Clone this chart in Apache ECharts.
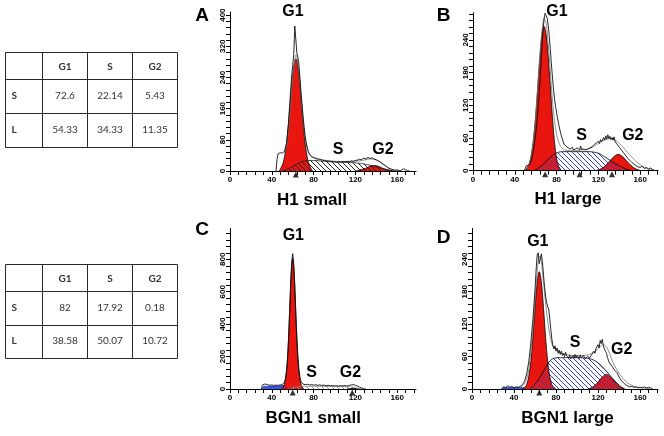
<!DOCTYPE html>
<html><head><meta charset="utf-8">
<script src="https://cdn.jsdelivr.net/npm/echarts@6/dist/echarts.min.js"></script>
<style>html,body{margin:0;padding:0;background:#fff}#c{width:664px;height:436px}</style>
</head><body><div id="c"></div>
<script>
// ---------------- DATA ----------------
const tableCols = ['', 'G1', 'S', 'G2'];
const tableRows = ['S', 'L'];
const table1Values = [['72.6', '22.14', '5.43'], ['54.33', '34.33', '11.35']];
const table2Values = [['82', '17.92', '0.18'], ['38.58', '50.07', '10.72']];

const panelLetters = ['A', 'B', 'C', 'D'];
const panelTitles = ['H1 small', 'H1 large', 'BGN1 small', 'BGN1 large'];
const phaseNames = ['G1', 'S', 'G2'];

const xTickLabels = [0, 40, 80, 120, 160];
const yTickLabelsA = [0, 80, 160, 240, 320, 400];
const yTickLabelsB = [0, 60, 120, 180, 240];
const yTickLabelsC = [0, 200, 400, 600, 800];
const yTickLabelsD = [0, 60, 120, 180, 240];

// Panel A: H1 small
const rawA = [[44,0],[45,30],[46,44],[47,40],[48,47],[49,42],[50,46],[51,44],[52,50],[53,55],[54,70],[55,95],[56,125],[57,165],[58,205],[59,245],[60,270],[61,298],[62,372],[63,368],[64,302],[65,292],[66,272],[67,238],[68,200],[69,170],[70,138],[71,112],[72,88],[73,72],[74,60],[75,50],[76,44],[78,37],[80,35],[82,33],[84,31],[86,30],[88,28],[90,27],[92,26],[94,25],[96,25],[98,24],[100,24],[102,23],[104,24],[106,23],[108,24],[110,24],[112,25],[114,24],[116,26],[118,25],[120,27],[122,28],[124,30],[126,29],[128,33],[130,31],[132,35],[134,32],[136,34],[138,30],[140,29],[142,26],[144,23],[146,19],[148,15],[150,11],[152,7],[154,5],[156,3],[158,2],[160,3],[162,1],[164,2],[166,6],[168,3],[170,1],[172,0]];
const fitA = [[52,45],[54,62],[56,105],[58,170],[60,240],[62,282],[63,298],[64,292],[66,252],[68,190],[70,128],[72,82],[74,56],[76,42],[78,36],[82,31],[90,28],[100,25],[110,24],[120,25],[126,27],[130,29],[134,31],[138,30],[142,25],[146,18],[150,11],[154,5],[158,2],[162,0]];
const g1A = [[47,0],[49,9],[51,22],[53,49],[55,92],[57,152],[59,217],[61,268],[63,288],[65,268],[67,217],[69,152],[71,92],[73,49],[75,22],[77,9],[79,0]];
const sA = [[50,0],[54,4],[58,9],[62,15],[66,21],[70,25],[74,27],[80,27],[90,25],[100,23],[110,22],[120,21],[126,19],[130,17],[134,15],[138,12],[142,9],[146,6],[150,3],[154,1],[157,0]];
const g2A = [[120,0],[122,1],[126,4],[130,7],[134,12],[138,14],[142,12],[146,7],[150,4],[154,1],[156,0]];
const markA = [63];

// Panel B: H1 large
const rawB = [[49,0],[50,4],[51,9],[52,6],[53,10],[54,7],[55,13],[56,20],[57,28],[58,40],[59,52],[60,68],[61,86],[62,108],[63,132],[64,162],[65,192],[66,228],[67,258],[68,278],[69,289],[70,286],[71,280],[72,266],[73,246],[74,222],[75,196],[76,172],[77,150],[78,132],[79,118],[80,106],[81,95],[82,85],[83,76],[84,68],[85,61],[86,55],[87,49],[88,51],[89,45],[90,47],[91,42],[92,44],[93,40],[94,39],[95,43],[96,38],[97,41],[98,40],[99,37],[100,42],[101,39],[102,38],[103,45],[104,39],[105,41],[106,40],[107,38],[108,38],[109,41],[110,40],[111,43],[112,42],[113,39],[114,44],[115,46],[116,48],[117,45],[118,51],[119,49],[120,54],[121,50],[122,57],[123,53],[124,55],[125,61],[126,56],[127,64],[128,58],[129,66],[130,59],[131,63],[132,57],[133,61],[134,56],[135,62],[136,53],[137,50],[138,48],[140,43],[142,38],[144,33],[146,28],[148,23],[150,19],[152,15],[154,12],[156,9],[158,7],[160,6],[162,8],[164,4],[166,6],[168,3],[170,5],[172,2],[174,0]];
const fitB = [[50,2],[52,6],[54,14],[56,30],[58,57],[60,100],[62,155],[64,212],[66,256],[68,280],[70,270],[72,232],[74,182],[76,130],[78,92],[80,66],[82,52],[84,44],[86,40],[88,38],[92,37],[96,37],[100,37],[104,38],[108,39],[112,41],[116,45],[120,50],[124,55],[128,58],[132,59],[136,56],[140,50],[144,42],[148,33],[152,25],[156,17],[160,11],[164,6],[168,3],[172,1],[174,0]];
const g1B = [[50,0],[52,6],[54,14],[56,31],[58,60],[60,102],[62,155],[64,209],[66,250],[68,265],[70,250],[72,209],[74,155],[76,98],[78,52],[80,22],[82,8],[84,2],[85,0]];
const sB = [[58,0],[62,4],[66,10],[70,17],[74,25],[78,31],[82,34],[86,35],[90,35],[100,35],[110,35],[116,34],[120,32],[124,28],[128,23],[132,18],[136,13],[140,9],[144,5],[148,2],[152,0]];
const g2B = [[116,0],[119,1],[123,4],[127,10],[131,18],[135,26],[139,30],[143,26],[147,18],[151,10],[155,4],[159,1],[162,0]];
const markB = [69, 102, 133];

// Panel C: BGN1 small
const rawC = [[30,0],[31,25],[32,36],[33,30],[34,26],[35,29],[36,24],[38,23],[40,25],[42,22],[44,24],[46,23],[48,25],[50,27],[51,31],[52,42],[53,64],[54,112],[55,188],[56,312],[57,472],[58,642],[59,778],[60,835],[61,772],[62,642],[63,472],[64,318],[65,198],[66,120],[67,72],[68,44],[69,33],[70,30],[72,27],[74,29],[76,25],[78,27],[80,24],[82,26],[84,23],[86,25],[88,22],[90,24],[92,21],[94,23],[96,20],[98,22],[100,19],[102,21],[104,18],[106,20],[108,19],[110,21],[112,18],[114,22],[116,25],[118,27],[120,23],[122,18],[124,12],[126,6],[128,2],[130,0]];
const g1C = [[49,0],[50,4],[51,12],[52,28],[53,52],[54,98],[55,172],[56,296],[57,456],[58,626],[59,756],[60,805],[61,752],[62,622],[63,452],[64,298],[65,178],[66,102],[67,56],[68,28],[69,12],[70,4],[71,0]];
const sC = [[56,0],[60,8],[64,13],[68,16],[72,17],[80,17],[90,16],[100,15],[110,14],[116,12],[120,8],[124,3],[126,0]];
const g2C = [[112,0],[115,2],[118,4],[121,2],[124,0]];
const debrisC = [[31,0],[32,15],[34,17],[36,17],[38,18],[40,18],[42,18],[44,19],[46,19],[48,20],[50,21],[52,22],[53,14],[54,0]];
const markC = [60, 117];

// Panel D: BGN1 large
const rawD = [[28,0],[30,4],[32,2],[34,6],[36,3],[38,5],[40,2],[42,4],[44,3],[46,5],[48,8],[50,14],[52,28],[54,50],[56,85],[58,130],[60,185],[61,220],[62,248],[63,252],[64,232],[65,240],[66,250],[67,236],[68,212],[69,190],[70,172],[71,160],[72,152],[73,148],[74,130],[75,110],[76,92],[77,80],[78,74],[79,80],[80,70],[81,76],[82,66],[83,72],[84,64],[85,70],[86,62],[87,66],[88,60],[89,68],[90,61],[91,64],[92,58],[93,63],[94,56],[96,62],[97,57],[98,64],[99,58],[100,62],[102,57],[103,63],[104,58],[106,62],[108,56],[110,60],[112,58],[114,64],[116,70],[117,66],[118,75],[119,72],[120,82],[121,76],[122,90],[123,84],[124,92],[125,80],[126,74],[127,70],[128,66],[129,58],[130,52],[131,48],[132,46],[134,40],[136,34],[138,30],[140,22],[142,16],[144,12],[146,8],[148,6],[150,4],[152,5],[154,3],[156,4],[158,2],[160,3],[162,2],[164,4],[166,2],[168,3],[170,2],[172,0]];
const fitD = [[46,4],[48,6],[50,10],[52,18],[54,36],[56,68],[58,112],[60,166],[62,215],[63,236],[64,245],[65,244],[66,236],[68,198],[70,160],[72,126],[74,100],[76,84],[78,76],[80,72],[84,67],[90,64],[96,62],[100,62],[106,62],[110,63],[114,66],[118,71],[122,78],[125,82],[128,78],[130,70],[132,60],[134,50],[136,42],[140,29],[144,19],[148,11],[152,7],[156,4],[160,3],[166,1],[170,0]];
const g1D = [[48,0],[50,3],[52,8],[54,23],[56,51],[58,96],[60,151],[62,198],[64,217],[66,198],[68,151],[70,96],[72,51],[74,23],[76,8],[78,3],[80,0]];
const sD = [[55,0],[58,5],[62,14],[66,26],[70,40],[74,52],[78,57],[84,58],[90,58],[100,58],[110,57],[114,55],[118,51],[122,45],[126,37],[130,28],[134,19],[138,11],[142,4],[145,0]];
const g2D = [[110,0],[112,1],[116,5],[120,13],[124,22],[128,27],[132,22],[136,13],[140,5],[144,1],[146,0]];
const debrisD = [[29,0],[30,3],[36,3],[42,3],[48,3],[50,2],[52,0]];
const markD = [64];

// ---------------- LAYOUT / STYLE ----------------
const RED = '#e8160e';
const FONT = '"Liberation Sans", Arial, sans-serif';

function makeHatch(color) {
  const c = document.createElement('canvas');
  c.width = 5; c.height = 5;
  const g = c.getContext('2d');
  g.strokeStyle = color; g.lineWidth = 1;
  g.beginPath();
  g.moveTo(-1, -1); g.lineTo(6, 6);
  g.moveTo(-1, 4); g.lineTo(1, 6);
  g.moveTo(4, -1); g.lineTo(6, 1);
  g.stroke();
  return c;
}

const panels = [
  { grid: {left: 230, top: 12, width: 186, height: 159}, xMax: 178, yMax: 408, yLabels: yTickLabelsA,
    raw: rawA, fit: fitA, g1: g1A, s: sA, g2: g2A, debris: null, marks: markA, hatch: makeHatch('#222'), sLine: '#222',
    letter: [202, 15.5], phases: [[293, 12], [338, 149.5], [383, 149.5]], title: [312, 200] },
  { grid: {left: 473, top: 12.7, width: 185, height: 158}, xMax: 177, yMax: 290, yLabels: yTickLabelsB,
    raw: rawB, fit: fitB, g1: g1B, s: sB, g2: g2B, debris: null, marks: markB, hatch: makeHatch('#3040c8'), sLine: '#000',
    letter: [443.5, 15.5], phases: [[557, 11.7], [581.7, 135.8], [632.8, 135.8]], title: [568, 199.5] },
  { grid: {left: 230, top: 228.5, width: 186, height: 160.5}, xMax: 178, yMax: 990, yLabels: yTickLabelsC,
    raw: rawC, fit: null, g1: g1C, s: sC, g2: g2C, debris: debrisC, marks: markC, hatch: makeHatch('#999'), sLine: '#888',
    letter: [202, 229.5], phases: [[293.3, 235.8], [311.7, 372.5], [350.5, 372.5]], title: [313.3, 418.3] },
  { grid: {left: 472, top: 228.5, width: 186, height: 160.5}, xMax: 177, yMax: 297, yLabels: yTickLabelsD,
    raw: rawD, fit: fitD, g1: g1D, s: sD, g2: g2D, debris: debrisD, marks: markD, hatch: makeHatch('#3040c8'), sLine: '#000',
    letter: [443.7, 238], phases: [[537.8, 241.5], [575, 342.5], [621.7, 349.2]], title: [567.5, 418.3] }
];

const tables = [
  { values: table1Values, rowEdges: [52.5, 79.5, 113.5, 147.5] },
  { values: table2Values, rowEdges: [264.5, 291.5, 325.5, 358.5] }
];
const colEdges = [5.5, 42.5, 87.5, 132.5, 177.5];

// ---------------- BUILD ----------------
function ticksFrom(labels, max) {
  const step = (labels[1] - labels[0]) / 5;
  const out = [];
  for (let v = 0; v <= max + 1e-9; v += step) out.push(Math.round(v * 1000) / 1000);
  return out;
}
const xTicks = ticksFrom(xTickLabels, 176);

const grids = [], xAxes = [], yAxes = [], series = [], graphics = [];
const axisLabelBase = {fontSize: 8, fontWeight: 'bold', color: '#000', fontFamily: FONT};

panels.forEach((p, i) => {
  grids.push(Object.assign({outerBoundsMode: 'none', containLabel: false}, p.grid));
  xAxes.push({
    type: 'value', gridIndex: i, min: 0, max: p.xMax, z: 10,
    axisLine: {onZero: false, lineStyle: {color: '#000', width: 1}},
    axisTick: {show: true, length: 4, lineStyle: {color: '#000', width: 1}, customValues: xTicks},
    axisLabel: Object.assign({margin: 5, customValues: xTickLabels}, axisLabelBase),
    splitLine: {show: false}
  });
  yAxes.push({
    type: 'value', gridIndex: i, min: 0, max: p.yMax, z: 10,
    axisLine: {show: true, onZero: false, lineStyle: {color: '#000', width: 1}},
    axisTick: {show: true, length: 4, lineStyle: {color: '#000', width: 1}, customValues: ticksFrom(p.yLabels, p.yMax)},
    axisLabel: Object.assign({margin: 3, rotate: 90, customValues: p.yLabels}, axisLabelBase),
    splitLine: {show: false}
  });
  const common = {xAxisIndex: i, yAxisIndex: i, symbol: 'none', showSymbol: false, silent: true, animation: false, type: 'line'};
  if (p.debris) series.push(Object.assign({}, common, {data: p.debris, smooth: 0.3,
    lineStyle: {color: '#1a2a9a', width: 0.6}, areaStyle: {color: '#3456e6', opacity: 1}}));
  series.push(Object.assign({}, common, {data: p.g1, smooth: 0.35,
    lineStyle: {color: '#000', width: 0.8}, areaStyle: {color: RED, opacity: 1}}));
  series.push(Object.assign({}, common, {data: p.g2, smooth: 0.35,
    lineStyle: {color: '#000', width: 0.8}, areaStyle: {color: RED, opacity: 1}}));
  series.push(Object.assign({}, common, {data: p.s, smooth: 0.3,
    lineStyle: {color: p.sLine, width: 0.8}, areaStyle: {color: {image: p.hatch, repeat: 'repeat'}, opacity: 1}}));
  if (p.fit) series.push(Object.assign({}, common, {data: p.fit, smooth: 0.3,
    lineStyle: {color: '#777', width: 0.8}}));
  series.push(Object.assign({}, common, {data: p.raw, smooth: false,
    lineStyle: {color: '#111', width: 0.9}}));
  series.push({type: 'scatter', xAxisIndex: i, yAxisIndex: i, data: p.marks.map(x => [x, 0]),
    symbol: 'triangle', symbolSize: [6, 6], symbolOffset: [0, 3.5], clip: false, z: 12, silent: true,
    itemStyle: {color: '#000'}, animation: false});

  graphics.push({type: 'text', x: p.letter[0], y: p.letter[1], z: 20,
    style: {text: panelLetters[i], font: 'bold 19px ' + FONT, fill: '#000', align: 'center', verticalAlign: 'middle'}});
  p.phases.forEach((pos, k) => graphics.push({type: 'text', x: pos[0], y: pos[1], z: 20,
    style: {text: phaseNames[k], font: 'bold 16px ' + FONT, fill: '#000', align: 'center', verticalAlign: 'middle'}}));
  graphics.push({type: 'text', x: p.title[0], y: p.title[1], z: 20,
    style: {text: panelTitles[i], font: 'bold 17px ' + FONT, fill: '#000', align: 'center', verticalAlign: 'middle'}});
});

tables.forEach(t => {
  const r = t.rowEdges, c = colEdges;
  const stroke = {stroke: '#2a2a2a', lineWidth: 1};
  graphics.push({type: 'rect', shape: {x: c[0], y: r[0], width: c[4] - c[0], height: r[3] - r[0]},
    style: Object.assign({fill: 'none'}, stroke)});
  for (let k = 1; k < c.length - 1; k++) graphics.push({type: 'line', shape: {x1: c[k], y1: r[0], x2: c[k], y2: r[3]}, style: stroke});
  for (let k = 1; k < r.length - 1; k++) graphics.push({type: 'line', shape: {x1: c[0], y1: r[k], x2: c[4], y2: r[k]}, style: stroke});
  const txt = (s, x, y, bold, align) => graphics.push({type: 'text', x: x, y: y,
    style: {text: s, font: (bold ? 'bold ' : '') + '10px Lato, "Liberation Sans", sans-serif', fill: '#333', align: align, verticalAlign: 'middle'}});
  tableCols.forEach((h, k) => { if (h) txt(h, (c[k] + c[k + 1]) / 2, (r[0] + r[1]) / 2 + 1, true, 'center'); });
  tableRows.forEach((rowName, j) => {
    const cy = (r[j + 1] + r[j + 2]) / 2 - 1;
    txt(rowName, c[0] + 6, cy, true, 'left');
    t.values[j].forEach((v, k) => txt(v, (c[k + 1] + c[k + 2]) / 2, cy, false, 'center'));
  });
});

const chart = echarts.init(document.getElementById('c'), null, {renderer: 'canvas'});
chart.setOption({
  animation: false,
  backgroundColor: '#fff',
  grid: grids, xAxis: xAxes, yAxis: yAxes, series: series,
  graphic: {elements: graphics}
});
</script></body></html>
